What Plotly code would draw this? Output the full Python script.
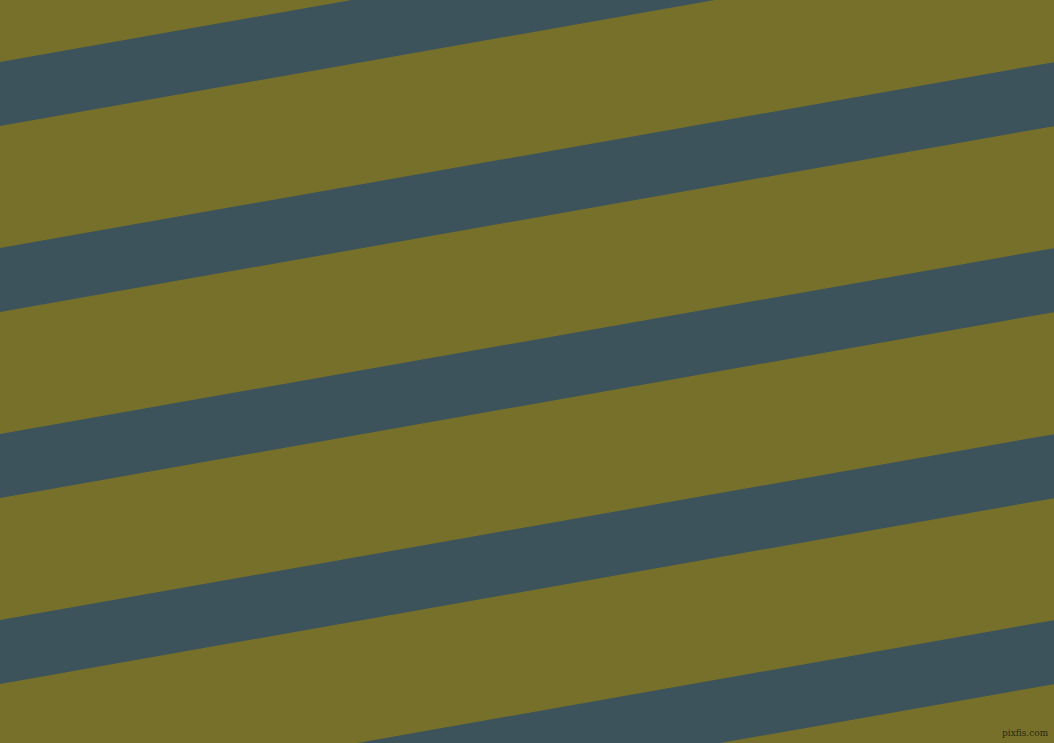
import numpy as np
import plotly.graph_objects as go

# Data
angle_deg = 10.0
stripe_top_at_left = [62, 248, 434, 620, 806]   # y of stripe top edge at x=0
stripe_height = 64                              # vertical thickness
canvas_w, canvas_h = 1054, 743
bg_color = "#76702A"
stripe_color = "#3D535B"
watermark = "pixfis.com"

slope = np.tan(np.radians(angle_deg))

fig = go.Figure()
for y0 in stripe_top_at_left:
    xs = [0, canvas_w, canvas_w, 0, 0]
    ys = [y0, y0 - slope * canvas_w, y0 - slope * canvas_w + stripe_height,
          y0 + stripe_height, y0]
    fig.add_trace(go.Scatter(x=xs, y=ys, mode="lines", fill="toself",
                             fillcolor=stripe_color, line=dict(width=0),
                             hoverinfo="skip", showlegend=False))

fig.add_annotation(x=canvas_w - 3, y=canvas_h - 3, xref="x", yref="y",
                   text=watermark, showarrow=False, xanchor="right", yanchor="bottom",
                   font=dict(family="DejaVu Serif", size=9, color="#2a2a10"))

fig.update_layout(
    width=canvas_w, height=canvas_h,
    margin=dict(l=0, r=0, t=0, b=0),
    paper_bgcolor=bg_color, plot_bgcolor=bg_color,
    xaxis=dict(range=[0, canvas_w], visible=False, fixedrange=True),
    yaxis=dict(range=[canvas_h, 0], visible=False, fixedrange=True),
)
fig.write_html("out.html",
               config={"displayModeBar": False, "staticPlot": True},
               post_script="document.body.style.margin='0';document.body.style.overflow='hidden';")
